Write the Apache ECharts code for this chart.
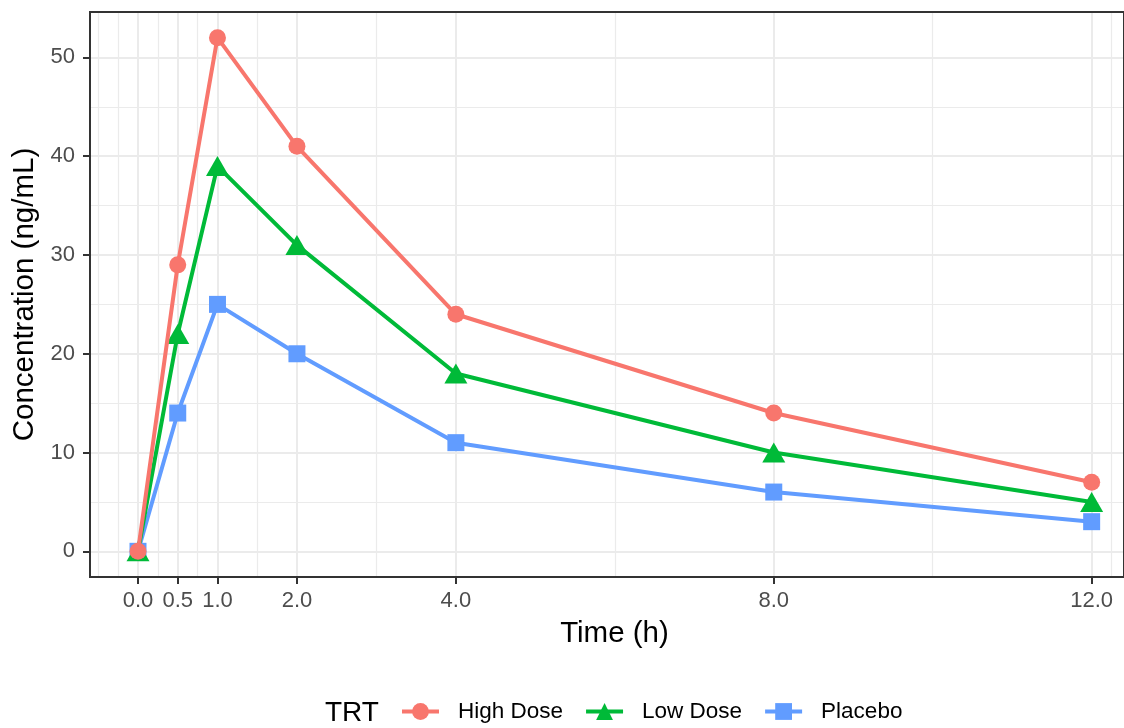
<!DOCTYPE html>
<html>
<head>
<meta charset="utf-8">
<script src="https://cdn.jsdelivr.net/npm/echarts@6/dist/echarts.min.js"></script>
<style>
html,body{margin:0;padding:0;background:#fff;}
#c{width:1124px;height:728px;}
</style>
</head>
<body>
<div id="c"></div>
<script>
const times = [0, 0.5, 1, 2, 4, 8, 12];
const highDose = [0, 29, 52, 41, 24, 14, 7];
const lowDose = [0, 22, 39, 31, 18, 10, 5];
const placebo = [0, 14, 25, 20, 11, 6, 3];
const groupNames = ['High Dose', 'Low Dose', 'Placebo'];
const xMajor = [0, 0.5, 1, 2, 4, 8, 12];
const xMinor = [-0.5, -0.25, 0.25, 0.75, 1.5, 3, 6, 10, 12.25];
const yMajor = [0, 10, 20, 30, 40, 50];
const yMinor = [5, 15, 25, 35, 45];

const FONT = 'Liberation Sans, Arial, Helvetica, sans-serif';
const colors = ['#F8766D', '#00BA38', '#619CFF'];
const symbols = ['circle', 'triangle', 'rect'];
const sizes = [17, [23, 20], 17];
const seriesVals = [highDose, lowDose, placebo];

const chart = echarts.init(document.getElementById('c'), null, {renderer: 'canvas'});

function gridLines(axis, vals, width) {
  return vals.map(v => ({[axis]: v, lineStyle: {color: '#EBEBEB', width: width, type: 'solid'}}));
}

const series = [{
  type: 'line',
  data: [],
  silent: true,
  z: 0,
  markLine: {
    silent: true,
    z: 0,
    symbol: ['none', 'none'],
    label: {show: false},
    animation: false,
    emphasis: {disabled: true},
    data: [].concat(
      gridLines('xAxis', xMinor, 1.2),
      gridLines('yAxis', yMinor, 1.2),
      gridLines('xAxis', xMajor, 2),
      gridLines('yAxis', yMajor, 2)
    )
  }
}];
groupNames.forEach((name, i) => {
  series.push({
    name: name,
    type: 'line',
    z: 5 - i,
    data: times.map((t, j) => [t, seriesVals[i][j]]),
    symbol: symbols[i],
    symbolSize: sizes[i],
    showAllSymbol: true,
    itemStyle: {color: colors[i], opacity: 1},
    lineStyle: {color: colors[i], width: 4},
    emphasis: {disabled: true},
    animation: false
  });
});

chart.setOption({
  animation: false,
  backgroundColor: '#fff',
  grid: {
    left: 90, top: 12, right: 0, height: 565,
    show: true, borderColor: '#333333', borderWidth: 2, backgroundColor: 'transparent', z: 10
  },
  xAxis: {
    type: 'value', min: -0.604, max: 12.407,
    name: 'Time (h)', nameLocation: 'middle', nameGap: 42,
    nameTextStyle: {fontFamily: FONT, fontSize: 29.5, color: '#000', padding: [0, 0, 0, 15]},
    axisLine: {show: false, onZero: false},
    splitLine: {show: false},
    axisTick: {show: true, length: 7, lineStyle: {color: '#333', width: 2}, customValues: xMajor},
    axisLabel: {
      customValues: xMajor, fontFamily: FONT, fontSize: 22, color: '#4D4D4D', margin: 13,
      formatter: v => Number(v).toFixed(1)
    }
  },
  yAxis: {
    type: 'value', min: -2.6, max: 54.6,
    name: 'Concentration (ng/mL)', nameLocation: 'middle', nameGap: 44, nameRotate: 90,
    nameTextStyle: {fontFamily: FONT, fontSize: 29.5, color: '#000'},
    axisLine: {show: false, onZero: false},
    splitLine: {show: false},
    axisTick: {show: true, length: 7, lineStyle: {color: '#333', width: 2}, customValues: yMajor},
    axisLabel: {customValues: yMajor, fontFamily: FONT, fontSize: 22, color: '#4D4D4D', margin: 15}
  },
  legend: {
    data: groupNames,
    left: 400, top: 700, padding: 0,
    orient: 'horizontal',
    itemWidth: 37, itemHeight: 21, itemGap: 21,
    lineStyle: {width: 4},
    textStyle: {fontFamily: FONT, fontSize: 22.5, color: '#000', padding: [0, 0, 0, 14]},
    selectedMode: false
  },
  graphic: [{
    type: 'text', left: 325, top: 699,
    style: {text: 'TRT', font: '28px ' + FONT, fill: '#000'}
  }],
  series: series
});
</script>
</body>
</html>
